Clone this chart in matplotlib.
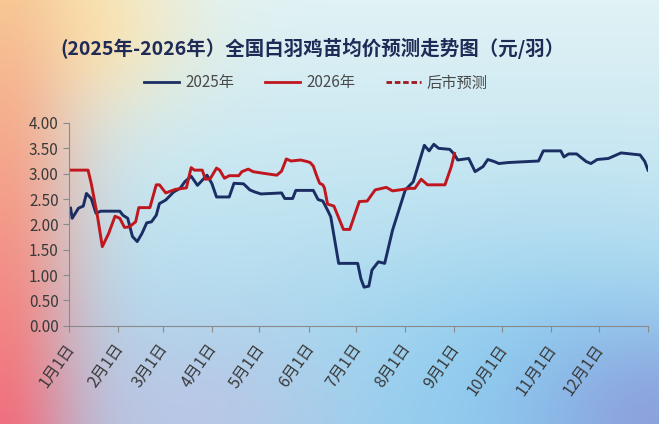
import numpy as np
import matplotlib
matplotlib.use("Agg")
import matplotlib.pyplot as plt
import matplotlib.transforms as mtransforms
from matplotlib.lines import Line2D

plt.rcParams['font.family'] = ['Noto Sans CJK SC', 'DejaVu Sans']

# day of year (0 = 1月1日) and price, yuan per chick
days_2025 = [1, 2, 6, 9, 11, 14, 17, 20, 32, 34,
             37, 40, 43, 46, 49, 52, 55, 57, 61, 66,
             70, 73, 77, 81, 87, 90, 93, 101, 104, 110,
             114, 117, 121, 134, 136, 141, 143, 154, 157, 160,
             163, 165, 170, 182, 184, 186, 189, 191, 195, 199,
             204, 212, 217, 224, 227, 230, 233, 240, 243, 245,
             252, 256, 261, 264, 268, 271, 277, 296, 299, 310,
             312, 315, 320, 326, 329, 333, 340, 348, 354, 360,
             363, 365]
price_2025 = [2.32, 2.12, 2.32, 2.36, 2.61, 2.51, 2.22, 2.26, 2.26, 2.18,
              2.12, 1.76, 1.66, 1.82, 2.03, 2.05, 2.18, 2.41, 2.48, 2.64,
              2.71, 2.84, 2.95, 2.77, 2.97, 2.81, 2.54, 2.54, 2.81, 2.80,
              2.68, 2.64, 2.60, 2.62, 2.51, 2.51, 2.67, 2.67, 2.49, 2.46,
              2.28, 2.15, 1.23, 1.23, 0.93, 0.76, 0.78, 1.10, 1.26, 1.23,
              1.89, 2.68, 2.84, 3.56, 3.45, 3.58, 3.50, 3.48, 3.38, 3.27,
              3.30, 3.04, 3.14, 3.28, 3.24, 3.20, 3.22, 3.25, 3.45, 3.45,
              3.33, 3.39, 3.39, 3.24, 3.20, 3.28, 3.30, 3.41, 3.39, 3.37,
              3.24, 3.07]

days_2026 = [1, 12, 14, 16, 18, 21, 25, 29, 32, 35,
             38, 42, 44, 51, 55, 57, 61, 67, 74, 77,
             79, 84, 86, 89, 93, 95, 98, 101, 107, 109,
             113, 116, 122, 131, 134, 137, 140, 146, 150, 152,
             154, 156, 158, 160, 161, 163, 167, 173, 177, 183,
             188, 193, 200, 204, 215, 218, 222, 226, 237, 241,
             243]
price_2026 = [3.07, 3.07, 2.81, 2.48, 2.15, 1.56, 1.82, 2.16, 2.12, 1.94,
              1.95, 2.05, 2.33, 2.33, 2.78, 2.78, 2.62, 2.69, 2.72, 3.12,
              3.07, 3.07, 2.89, 2.90, 3.11, 3.07, 2.91, 2.96, 2.96, 3.04,
              3.09, 3.04, 3.01, 2.97, 3.05, 3.29, 3.25, 3.27, 3.24, 3.22,
              3.15, 2.97, 2.81, 2.78, 2.72, 2.40, 2.36, 1.90, 1.90, 2.45,
              2.46, 2.68, 2.73, 2.66, 2.71, 2.71, 2.89, 2.78, 2.78, 3.14,
              3.40]

# forecast part is not visible in the picture
days_forecast = []
price_forecast = []

month_starts = [0, 31, 59, 90, 120, 151, 181, 212, 243, 273, 304, 334]
month_labels = [f'{m}月1日' for m in range(1, 13)]
y_ticks = [0, 0.5, 1.0, 1.5, 2.0, 2.5, 3.0, 3.5, 4.0]

navy = '#1b2e63'
red = '#c0171f'

fig = plt.figure(figsize=(6.59, 4.24), dpi=100)

# soft gradient background
H, W = 424, 659
u, v = np.meshgrid(np.linspace(0, 1, W), np.linspace(0, 1, H))
top = np.array([0.88, 0.95, 0.96])
bot = np.array([0.64, 0.84, 0.93])
img = top * (1 - v[..., None]) + bot * v[..., None]

def blob(img, cx, cy, rx, ry, col, s=1.0):
    w = s * np.exp(-(((u - cx) / rx) ** 2 + ((v - cy) / ry) ** 2))
    return img * (1 - w[..., None]) + np.array(col) * w[..., None]

img = blob(img, 0.85, 0.95, 0.35, 0.35, [0.52, 0.78, 0.94], 0.8)
img = blob(img, 1.0, 1.0, 0.18, 0.22, [0.55, 0.62, 0.86], 0.9)
img = blob(img, 0.28, 1.0, 0.22, 0.25, [0.76, 0.76, 0.89], 0.7)
img = blob(img, 0.12, 0.05, 0.16, 0.22, [0.99, 0.90, 0.68], 0.9)
warm = np.stack([0.97 - 0.03 * v, 0.78 - 0.34 * v, 0.58 - 0.08 * v], axis=-1)
wl = np.exp(-(u / 0.12) ** 2)
img = img * (1 - wl[..., None]) + warm * wl[..., None]
img = np.clip(img, 0, 1)

bg = fig.add_axes([0, 0, 1, 1], zorder=-10)
bg.imshow(img, aspect='auto', extent=[0, 1, 0, 1])
bg.axis('off')

ax = fig.add_axes([69 / W, 1 - 325.7 / H, (648 - 69) / W, (325.7 - 123) / H])
ax.patch.set_alpha(0)

ax.plot(days_2025, price_2025, color=navy, linewidth=2.1, solid_joinstyle='round')
ax.plot(days_2026, price_2026, color=red, linewidth=2.1, solid_joinstyle='round')
ax.plot(days_forecast, price_forecast, color='#9e1a20', linewidth=2.1, linestyle=(0, (2, 1)))

ax.set_xlim(0, 365)
ax.set_ylim(0, 4)
ax.set_xticks(month_starts + [365])
ax.set_xticklabels(month_labels + [''], rotation=55, ha='right', va='center',
                   rotation_mode='anchor', fontsize=11.5, color='#3a3a3a',
                   fontweight='light')
ax.set_yticks(y_ticks)
ax.set_yticklabels([f'{t:.2f}' for t in y_ticks], fontsize=11, color='#3a3a3a')
ax.tick_params(axis='both', direction='out', length=4, color='#8a8a8a', width=0.8)
ax.tick_params(axis='x', pad=6)
shift = mtransforms.ScaledTranslation(2 / 100, -6 / 100, fig.dpi_scale_trans)
for lab in ax.get_xticklabels():
    lab.set_transform(lab.get_transform() + shift)
for s in ['top', 'right']:
    ax.spines[s].set_visible(False)
for s in ['left', 'bottom']:
    ax.spines[s].set_color('#8a8a8a')
    ax.spines[s].set_linewidth(0.8)

fig.text(312 / W, 1 - 48 / H, '(2025年-2026年）全国白羽鸡苗均价预测走势图（元/羽）',
         ha='center', va='center', fontsize=14, fontweight='bold', color='#1f2b57')

handles = [Line2D([], [], color=navy, linewidth=2.0),
           Line2D([], [], color=red, linewidth=2.0),
           Line2D([], [], color='#9e1a20', linewidth=2.0, linestyle=(0, (2, 1)))]
fig.legend(handles, ['2025年', '2026年', '后市预测'], loc='center',
           bbox_to_anchor=(316 / W, 1 - 83 / H), ncol=3, frameon=False,
           fontsize=11, labelcolor='#4a4a4a', handlelength=2.3,
           handletextpad=0.4, columnspacing=2.0)

fig.savefig('out.png', dpi=100)
